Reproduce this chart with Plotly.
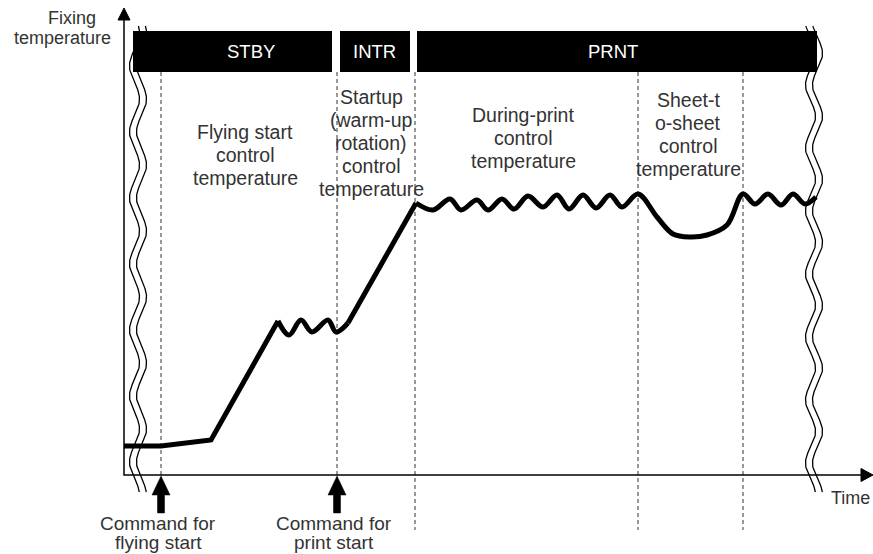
import numpy as np
import plotly.graph_objects as go

# fixing temperature profile (time, temperature), diagram units
warm_t = [0, 37, 87, 154]
warm_T = [29, 29, 35, 154]
fly_t = [154, 165, 177, 188, 204, 212, 224]
fly_T = [154, 140, 155, 143, 155, 143, 152]
rise_t = [224, 292]
rise_T = [152, 272]
print_t = [292, 309, 326, 337, 353, 364, 378, 390, 404, 419, 433, 445, 459, 472, 486, 498, 514,
           533, 549, 566, 583, 603, 619, 631, 644, 657, 669, 681, 692]
print_T = [272, 265, 276, 265, 275, 265, 276, 266, 279, 268, 280, 266, 280, 267, 280, 268, 281,
           258, 241, 238, 240, 250, 281, 271, 281, 270, 281, 271, 278]

# operating states shown in the black bars
phases = ["STBY", "INTR", "PRNT"]
phase_start = [9, 216, 293]
phase_end = [208, 286, 693]
phase_label_t = [127, 250, 489]

# dashed boundaries, and which ones stop at the time axis
boundaries = [37, 213, 291, 514, 619]
boundary_long = [False, False, True, True, True]

commands = [37, 213]
command_labels = [["Command for", "flying start"], ["Command for", "print start"]]

region_labels = [
    ["Flying start", "control", "temperature"],
    ["Startup", "(warm-up", "rotation)", "control", "temperature"],
    ["During-print", "control", "temperature"],
    ["Sheet-t", "o-sheet", "control", "temperature"],
]
region_pos = [(121, 343), (247, 378), (399, 360), (564, 375)]

FONT = "Liberation Sans, Arial, sans-serif"
TXT = "#333333"

fig = go.Figure()

# break marks (double wavy lines)
for cx, y0, period in [(10.5, 145, 66), (686.5, 75, 63)]:
    yy = np.linspace(-17, 449, 400)
    for off in (0, 7):
        xx = cx + off - 5 * np.cos(2 * np.pi * (yy - y0) / period)
        fig.add_trace(go.Scatter(x=xx, y=yy, mode="lines",
                                 line=dict(color="black", width=1.3), hoverinfo="skip"))

# axes
fig.add_trace(go.Scatter(x=[0, 0, 740], y=[458, 0, 0], mode="lines",
                         line=dict(color="black", width=1.5), hoverinfo="skip"))
fig.add_trace(go.Scatter(x=[-6, 0, 6, -6], y=[455, 467, 455, 455], fill="toself",
                         fillcolor="black", mode="lines", line=dict(color="black", width=1)))
fig.add_trace(go.Scatter(x=[737, 749, 737, 737], y=[6.5, 0, -6.5, 6.5], fill="toself",
                         fillcolor="black", mode="lines", line=dict(color="black", width=1)))

# temperature curve
for tx, ty, shape in [(warm_t, warm_T, "linear"), (fly_t, fly_T, "spline"),
                      (rise_t, rise_T, "linear"), (print_t, print_T, "spline")]:
    fig.add_trace(go.Scatter(x=tx, y=ty, mode="lines", line_shape=shape,
                             line=dict(color="black", width=5), hoverinfo="skip"))

# command arrows
for c in commands:
    ax = [c, c + 9, c + 3.5, c + 3.5, c - 3.5, c - 3.5, c - 9, c]
    ay = [-1, -20, -20, -38, -38, -20, -20, -1]
    fig.add_trace(go.Scatter(x=ax, y=ay, fill="toself", fillcolor="black", mode="lines",
                             line=dict(color="black", width=0.5), hoverinfo="skip"))

shapes = []
for b, long in zip(boundaries, boundary_long):
    shapes.append(dict(type="line", x0=b, x1=b, y0=403, y1=-55 if long else 0,
                       line=dict(color="#333333", width=1, dash="4px,3px"), layer="below"))
annotations = []
for name, s, e, lt in zip(phases, phase_start, phase_end, phase_label_t):
    shapes.append(dict(type="rect", x0=s, x1=e, y0=403, y1=444, fillcolor="black",
                       line=dict(width=0), layer="above"))
    annotations.append(dict(x=lt, y=423.5, text=name, showarrow=False,
                            font=dict(color="white", size=18.5, family=FONT)))

for lines, (cx, top) in zip(region_labels, region_pos):
    for i, ln in enumerate(lines):
        annotations.append(dict(x=cx, y=top - 23 * i, text=ln, showarrow=False,
                                font=dict(color=TXT, size=19.5, family=FONT)))

for c, lines in zip(commands, command_labels):
    for i, ln in enumerate(lines):
        annotations.append(dict(x=c - 3, y=-48 - 19 * i, text=ln, showarrow=False,
                                font=dict(color=TXT, size=19, family=FONT)))

annotations.append(dict(x=726, y=-23, text="Time", showarrow=False,
                        font=dict(color=TXT, size=18, family=FONT)))
annotations.append(dict(x=-52, y=457, text="Fixing", showarrow=False,
                        font=dict(color=TXT, size=18, family=FONT)))
annotations.append(dict(x=-62, y=437, text="temperature", showarrow=False,
                        font=dict(color=TXT, size=18, family=FONT)))

fig.update_layout(
    width=873, height=554,
    margin=dict(l=0, r=0, t=0, b=0),
    paper_bgcolor="white", plot_bgcolor="white",
    showlegend=False,
    xaxis=dict(range=[-124, 749], visible=False, fixedrange=True),
    yaxis=dict(range=[-79, 475], visible=False, fixedrange=True),
    shapes=shapes,
    annotations=annotations,
)

# drop the default page margin so the figure fills the window exactly
fig.write_html("out.html", config={"displayModeBar": False},
               post_script="document.body.style.margin='0';document.body.style.overflow='hidden';")
